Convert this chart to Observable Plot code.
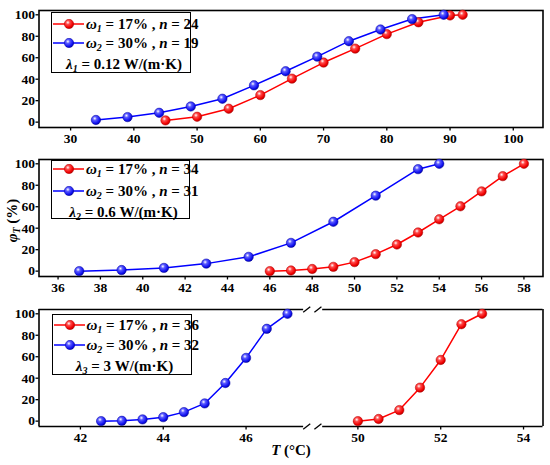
<!DOCTYPE html>
<html><head><meta charset="utf-8">
<script src="https://cdn.jsdelivr.net/npm/d3@7"></script>
<script src="https://cdn.jsdelivr.net/npm/@observablehq/plot@0.6"></script>
<style>
body{margin:0;background:#fff;}
#fig{position:relative;width:550px;height:465px;overflow:hidden;font-family:"Liberation Serif","Times New Roman",serif;font-weight:bold;color:#000;}
.panel{position:absolute;left:0;}
.legend{position:absolute;border:1.5px solid #000;background:#fff;box-sizing:border-box;}
.row{position:absolute;left:0;height:20px;white-space:nowrap;}
.row svg{position:absolute;left:0;top:5px;}
.row span{position:absolute;left:34px;top:0;line-height:20px;font-size:15px;}
.lam{position:absolute;left:3px;width:100%;text-align:center;line-height:20px;font-size:15px;white-space:nowrap;}
sub{font-size:10px;vertical-align:-3px;line-height:0;}
#xlab{position:absolute;left:241px;width:100px;text-align:center;top:442px;font-size:15px;}
#ylab{position:absolute;left:-38px;top:212px;width:100px;text-align:center;font-size:15px;transform:rotate(-90deg);white-space:nowrap;}
</style></head>
<body>
<svg width="0" height="0" style="position:absolute">
<defs>
<radialGradient id="gR" cx="0.38" cy="0.34" r="0.7">
<stop offset="0" stop-color="#ffffff"/><stop offset="0.3" stop-color="#ff4a4a"/><stop offset="0.75" stop-color="#f00000"/><stop offset="1" stop-color="#b00000"/>
</radialGradient>
<radialGradient id="gB" cx="0.38" cy="0.34" r="0.7">
<stop offset="0" stop-color="#ffffff"/><stop offset="0.3" stop-color="#5a5aff"/><stop offset="0.75" stop-color="#1010f0"/><stop offset="1" stop-color="#0000a0"/>
</radialGradient>
</defs>
</svg>
<div id="fig"></div>
<script>
// ---------- data ----------
const yTicks = [0, 20, 40, 60, 80, 100];

const p1Ticks = [30, 40, 50, 60, 70, 80, 90, 100];
const p1RedT   = [45, 50, 55, 60, 65, 70, 75, 80, 85, 90, 92];
const p1RedPhi = [1.6, 5, 12.5, 25.2, 40.5, 55.5, 68.5, 82, 93, 99.4, 100];
const p1BlueT   = [34, 39, 44, 49, 54, 59, 64, 69, 74, 79, 84, 89];
const p1BluePhi = [2, 4.7, 8.7, 14.6, 21.8, 34.3, 47.4, 61, 75.4, 86.3, 96, 100];

const p2Ticks = [36, 38, 40, 42, 44, 46, 48, 50, 52, 54, 56, 58];
const p2RedT   = [46, 47, 48, 49, 50, 51, 52, 53, 54, 55, 56, 57, 58];
const p2RedPhi = [0, 0.6, 2, 4, 8.4, 15.8, 24.8, 36, 48.3, 60.4, 74.3, 88.5, 100];
const p2BlueT   = [37, 39, 41, 43, 45, 47, 49, 51, 53, 54];
const p2BluePhi = [0, 1, 3, 7, 13.3, 26.3, 46, 70.3, 95, 100];

const p3Ticks = [42, 44, 46, 50, 52, 54];
const p3RedT   = [50, 50.5, 51, 51.5, 52, 52.5, 53];
const p3RedPhi = [0, 2, 10.3, 31.2, 57, 90.3, 100];
const p3BlueT   = [42.5, 43, 43.5, 44, 44.5, 45, 45.5, 46, 46.5, 47];
const p3BluePhi = [0, 0.3, 1.6, 3.7, 8.4, 16.5, 35.5, 58.9, 86, 100];

const legends = [
  {w: "1", pct: "17%", n: "24", w2: "2", pct2: "30%", n2: "19", lam: "1", lamVal: "0.12"},
  {w: "1", pct: "17%", n: "34", w2: "2", pct2: "30%", n2: "31", lam: "2", lamVal: "0.6"},
  {w: "1", pct: "17%", n: "36", w2: "2", pct2: "30%", n2: "32", lam: "3", lamVal: "3"}
];

// axis break for panel 3
const breakLo = 47.6, breakHi = 48.9;
const gap = breakHi - breakLo;
const bx = t => (t >= breakHi ? t - gap : t);

const yDomain = [-5, 104];
const RED = "#ff0000", BLUE = "#0000ff";

const fig = document.getElementById("fig");
const zip = (xs, ys, f = d => d) => xs.map((x, i) => ({x: f(x), y: ys[i]}));

function seriesMarks(red, blue) {
  return [
    Plot.line(red, {x: "x", y: "y", stroke: RED, strokeWidth: 1.5}),
    Plot.line(blue, {x: "x", y: "y", stroke: BLUE, strokeWidth: 1.5}),
    Plot.dot(red, {x: "x", y: "y", r: 4.7, fill: "url(#gR)", stroke: "#b00000", strokeWidth: 0.5}),
    Plot.dot(blue, {x: "x", y: "y", r: 4.7, fill: "url(#gB)", stroke: "#0000a0", strokeWidth: 0.5})
  ];
}

function makePanel(top, xDomain, ticks, tickFormat, marks, frame = true) {
  const p = Plot.plot({
    width: 550, height: 150,
    marginLeft: 38.5, marginRight: 7.5, marginTop: 10, marginBottom: 23,
    x: {domain: xDomain},
    y: {domain: yDomain},
    style: {fontFamily: "'Liberation Serif', 'Times New Roman', serif", fontSize: "13.5px", fontWeight: "bold", color: "#000", background: "transparent", overflow: "visible"},
    marks: [
      Plot.axisX({ticks, tickFormat, tickSize: 3.5, tickPadding: 2.5, label: null, strokeWidth: 1.3}),
      Plot.axisY({ticks: yTicks, tickSize: 3, tickPadding: 1, label: null, strokeWidth: 1.3}),
      ...(frame ? [Plot.frame({stroke: "#000", strokeWidth: 1.6})] : []),
      ...marks
    ]
  });
  p.classList.add("panel");
  p.style.top = top + "px";
  fig.appendChild(p);
}

// panel 1
makePanel(0, [25, 104.7], p1Ticks, d => d,
  seriesMarks(zip(p1RedT, p1RedPhi), zip(p1BlueT, p1BluePhi)));

// panel 2
makePanel(149, [35.1, 58.9], p2Ticks, d => d,
  seriesMarks(zip(p2RedT, p2RedPhi), zip(p2BlueT, p2BluePhi)));

// panel 3 (broken axis)
const x3Domain = [41, bx(54.47)];
const yB = yDomain[0], yT = yDomain[1];
const frameSegs = [
  {x1: x3Domain[0], x2: breakLo - 0.21, y: yB}, {x1: breakLo + 0.25, x2: x3Domain[1], y: yB},
  {x1: x3Domain[0], x2: breakLo - 0.21, y: yT}, {x1: breakLo + 0.25, x2: x3Domain[1], y: yT}
];
const slashes = [];
for (const yy of [yB, yT]) {
  for (const off of [-0.22, 0.05]) {
    slashes.push({x1: breakLo + off, x2: breakLo + off + 0.17, y1: yy - 2.6, y2: yy + 2.6});
  }
}
makePanel(299, x3Domain, p3Ticks.map(bx), (d, i) => p3Ticks[i], [
  Plot.ruleY(frameSegs, {x1: "x1", x2: "x2", y: "y", stroke: "#000", strokeWidth: 1.6}),
  Plot.ruleX(x3Domain, {y1: yB, y2: yT, stroke: "#000", strokeWidth: 1.6}),
  Plot.link(slashes, {x1: "x1", x2: "x2", y1: "y1", y2: "y2", stroke: "#000", strokeWidth: 1.3}),
  ...seriesMarks(zip(p3RedT, p3RedPhi, bx), zip(p3BlueT, p3BluePhi, bx))
], false);

// legends
const legendPos = [
  {left: 51, top: 12, width: 140, height: 61, rows: [10.5, 30.3, 51]},
  {left: 51, top: 160, width: 139, height: 59, rows: [8, 30, 50.7]},
  {left: 51.5, top: 314, width: 140, height: 61, rows: [9.7, 29.7, 51]}
];
function sample(grad, color, edge) {
  return `<svg width="34" height="10"><line x1="1" y1="5" x2="32" y2="5" stroke="${color}" stroke-width="1.5"/><circle cx="17" cy="5" r="4.7" fill="url(#${grad})" stroke="${edge}" stroke-width="0.5"/></svg>`;
}
legends.forEach((L, i) => {
  const P = legendPos[i];
  const box = document.createElement("div");
  box.className = "legend";
  Object.assign(box.style, {left: P.left + "px", top: P.top + "px", width: P.width + "px", height: P.height + "px"});
  box.innerHTML =
    `<div class="row" style="top:${P.rows[0] - 10}px">${sample("gR", RED, "#b00000")}<span><i>ω</i><sub><i>${L.w}</i></sub> = ${L.pct} , <i>n</i> = ${L.n}</span></div>` +
    `<div class="row" style="top:${P.rows[1] - 10}px">${sample("gB", BLUE, "#0000a0")}<span><i>ω</i><sub><i>${L.w2}</i></sub> = ${L.pct2} , <i>n</i> = ${L.n2}</span></div>` +
    `<div class="lam" style="top:${P.rows[2] - 10}px"><i>λ</i><sub><i>${L.lam}</i></sub> = ${L.lamVal} W/(m·K)</div>`;
  fig.appendChild(box);
});

// axis titles
const xl = document.createElement("div");
xl.id = "xlab"; xl.innerHTML = "<i>T</i> (°C)";
fig.appendChild(xl);
const yl = document.createElement("div");
yl.id = "ylab"; yl.innerHTML = "<i>φ</i><sub><i>T</i></sub> (%)";
fig.appendChild(yl);
</script>
</body></html>
